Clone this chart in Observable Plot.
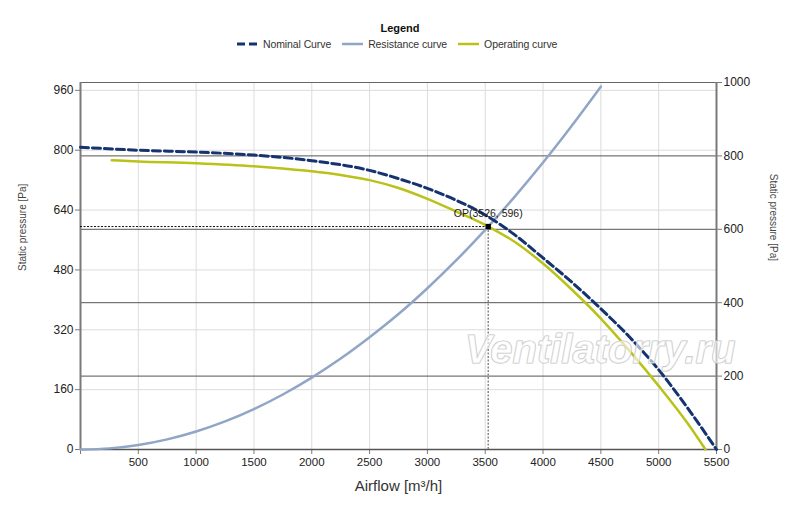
<!DOCTYPE html>
<html>
<head>
<meta charset="utf-8">
<script src="https://cdn.jsdelivr.net/npm/d3@7"></script>
<script src="https://cdn.jsdelivr.net/npm/@observablehq/plot@0.6"></script>
<style>
  html, body { margin: 0; padding: 0; background: #fff; }
  body { width: 800px; height: 507px; overflow: hidden; font-family: "Liberation Sans", Arial, sans-serif; }
  #legend { height: 58px; position: relative; }
  #legend .title { position: absolute; top: 22px; left: 0; width: 800px; text-align: center; font-weight: bold; font-size: 11px; color: #111; }
  #legend .items { position: absolute; top: 38px; left: 237px; display: flex; align-items: center; font-size: 10.5px; color: #333; white-space: nowrap; letter-spacing: -0.1px; }
  #legend .item { display: flex; align-items: center; margin-right: 11px; }
  #legend svg { margin-right: 5px; }
  #chart svg { display: block; }
</style>
</head>
<body>
<div id="legend"></div>
<div id="chart"></div>
<script>
// ---- data ----
const xTicks = [0, 500, 1000, 1500, 2000, 2500, 3000, 3500, 4000, 4500, 5000, 5500];
const leftTicks = [0, 160, 320, 480, 640, 800, 960];
const rightTicks = [0, 200, 400, 600, 800, 1000];

const nominalQ = [0, 500, 1000, 1500, 2000, 2500, 2750, 3000, 3250, 3500, 3750, 4000, 4250, 4500, 4750, 5000, 5250, 5500];
const nominalP = [808, 800, 795, 787, 772, 746, 724, 698, 666, 627, 575, 512, 447, 376, 300, 213, 111, 0];

const operatingQ = [270, 500, 1000, 1500, 1750, 2000, 2250, 2500, 2750, 3000, 3250, 3526, 3750, 4000, 4250, 4500, 4750, 5000, 5250, 5405];
const operatingP = [773, 770, 765, 757, 751, 744, 734, 720, 699, 670, 636, 596, 556, 497, 427, 350, 263, 170, 70, 0];

const resistanceQ = [0, 250, 500, 750, 1000, 1250, 1500, 1750, 2000, 2250, 2500, 2750, 3000, 3250, 3500, 3750, 4000, 4250, 4500];
const resistanceP = [0, 3, 12, 27, 48, 75, 108, 147, 192, 243, 300, 362, 431, 506, 587, 674, 767, 866, 970];

const opPoint = {q: 3526, p: 596};

const seriesNames = ["Nominal Curve", "Resistance curve", "Operating curve"];
const seriesColors = ["#15336f", "#91a6c6", "#b9c219"];

// ---- helpers ----
const yMax = 981;            // left axis top value
const k = yMax / 1000;        // right axis (0..1000) -> left scale
const toRows = (qs, ps) => qs.map((q, i) => ({q, p: ps[i]}));
const nominal = toRows(nominalQ, nominalP);
const operating = toRows(operatingQ, operatingP);
const resistance = toRows(resistanceQ, resistanceP);

// ---- legend ----
const legend = document.getElementById("legend");
legend.innerHTML = `<div class="title">Legend</div><div class="items">` +
  seriesNames.map((n, i) => `<div class="item"><svg width="21" height="6"><line x1="0" x2="21" y1="3" y2="3" stroke="${seriesColors[i]}" stroke-width="${i === 0 ? 3 : 2.5}" ${i === 0 ? 'stroke-dasharray="8,4"' : ''}/></svg><span>${n}</span></div>`).join("") +
  `</div>`;

// ---- chart ----
const axisColor = "#7a7a7a";
const chart = Plot.plot({
  width: 800,
  height: 449,
  marginTop: 24,
  marginBottom: 58,
  marginLeft: 80,
  marginRight: 84,
  style: {fontFamily: "Liberation Sans, Arial, sans-serif", fontSize: "11.5px", color: "#222", background: "#fff"},
  x: {domain: [0, 5500]},
  y: {domain: [0, yMax]},
  marks: [
    Plot.gridX(xTicks, {stroke: "#dcdcdc", strokeOpacity: 1}),
    Plot.gridY(leftTicks, {stroke: "#dcdcdc", strokeOpacity: 1}),
    Plot.ruleY(rightTicks.slice(1, -1).map(v => v * k), {stroke: "#555", strokeWidth: 1}),
    Plot.frame({stroke: "#666", strokeWidth: 1}),
    Plot.axisX({ticks: xTicks, tickSize: 5, tickPadding: 3, stroke: axisColor,
      tickFormat: d => d === 0 ? "" : String(d), fontSize: 11.5, label: null}),
    Plot.axisY({ticks: leftTicks, tickSize: 5, tickPadding: 2, stroke: axisColor,
      tickFormat: d => String(d), fontSize: 12, label: null}),
    Plot.axisY({anchor: "right", ticks: rightTicks.map(v => v * k), tickSize: 5, tickPadding: 2, stroke: axisColor,
      tickFormat: d => String(Math.round(d / k)), fontSize: 12, label: null}),
    Plot.ruleX([0], {stroke: axisColor, strokeWidth: 2}),
    Plot.ruleX([5500], {stroke: axisColor, strokeWidth: 2}),
    Plot.ruleY([0], {stroke: "#555", strokeWidth: 1.5}),
    // curves
    Plot.line(resistance, {x: "q", y: "p", stroke: seriesColors[1], strokeWidth: 2.5, curve: "monotone-x"}),
    Plot.line(operating, {x: "q", y: "p", stroke: seriesColors[2], strokeWidth: 2.5, curve: "monotone-x"}),
    Plot.line(nominal, {x: "q", y: "p", stroke: seriesColors[0], strokeWidth: 3, strokeDasharray: "8,4", curve: "monotone-x"}),
    // operating point
    Plot.ruleY([opPoint], {y: "p", x1: 0, x2: "q", stroke: "#111", strokeWidth: 1, strokeDasharray: "2,1.5"}),
    Plot.ruleX([opPoint], {x: "q", y1: 0, y2: "p", stroke: "#888", strokeWidth: 1.5, strokeDasharray: "2,1.5"}),
    Plot.dot([opPoint], {x: "q", y: "p", symbol: "square", r: 3, fill: "#000", stroke: "none"}),
    Plot.text([opPoint], {x: "q", y: "p", text: d => `OP(${d.q}, ${d.p})`, dy: -13, fontSize: 10.5, fill: "#222"}),
    // watermark
    Plot.text(["Ventilatorry.ru"], {frameAnchor: "right", dx: 19, dy: 84, textAnchor: "end",
      fontSize: 40, fontStyle: "italic", fontWeight: "bold", fill: "white", fillOpacity: 0.6, stroke: "#c4c4c4", strokeWidth: 1.2}),
    // axis titles
    Plot.text(["Airflow [m³/h]"], {frameAnchor: "bottom", dy: 41, fontSize: 15, fill: "#333"}),
    Plot.text(["Static pressure [Pa]"], {frameAnchor: "left", dx: -58, dy: 5, rotate: -90, fontSize: 10, fill: "#444"}),
    Plot.text(["Static pressure [Pa]"], {frameAnchor: "right", dx: 57, dy: -5, rotate: 90, fontSize: 10, fill: "#444"})
  ]
});
document.getElementById("chart").appendChild(chart);
</script>
</body>
</html>
